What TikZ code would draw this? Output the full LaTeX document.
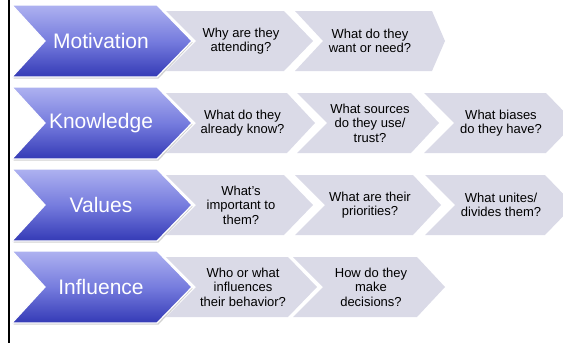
\documentclass[tikz,border=0pt]{standalone}
\usepackage{fontspec}
\setmainfont{Liberation Sans}
\definecolor{leadtop}{RGB}{174,178,240}
\definecolor{leadmid}{RGB}{118,124,222}
\definecolor{leadbot}{RGB}{52,58,182}
\definecolor{itemgray}{RGB}{218,218,231}
% chevron outline: style, left x, top-right x, tip depth, notch depth, centre y, half height
\newcommand\chevronpath[7]{%
  \path[#1] (#2,#6-#7) -- (#3,#6-#7) -- (#3+#4,#6) -- (#3,#6+#7)
    -- (#2,#6+#7) -- (#2+#5,#6) -- cycle;}
% a lead chevron with its label
\newcommand\leadchevron[3]{%
  \chevronpath{fill=black,opacity=0.18}{13.5}{158.5}{34}{33}{#2+1.5}{36}
  \chevronpath{lead}{12}{157}{35}{33}{#2}{36}
  \node[leadtext] (#1) at (101,#2) {#3};}
% a question chevron with its label: name, left x, top-right x, tip, centre y, text
\newcommand\itemchevron[6]{%
  \chevronpath{item}{#2}{#3}{#4}{30}{#5}{30}
  \node[itemtext] (#1) at ({(#2+30+#3)/2+1},#5) {#6};}
\begin{document}
\begin{tikzpicture}[x=1pt,y=-1pt,
  lead/.style={top color=leadtop, bottom color=leadbot, middle color=leadmid,
    draw=white, line width=1.2pt},
  item/.style={fill=itemgray},
  leadtext/.style={text=white, inner sep=0pt, font=\fontsize{21}{24}\selectfont},
  itemtext/.style={align=center, inner sep=0pt, text=black,
    font=\fontsize{13}{14.5}\selectfont}]
\useasboundingbox (0,0) rectangle (563,343);
\begin{scope}
\clip (0,0) rectangle (563,343);
% left rule
\draw[line width=2pt] (9,0) -- (9,343);

% Motivation
\itemchevron{m1}{166}{284}{29}{41}{Why are they\\attending?}
\chevronpath{item}{295}{432}{13}{28}{41}{30}
\node[itemtext] (m2) at (370,41) {What do they\\want or need?};
\leadchevron{motivation}{41}{Motivation}

% Knowledge
\itemchevron{k1}{166}{287}{28}{123}{What do they\\already know?}
\itemchevron{k2}{297}{411}{28}{123}{What sources\\do they use/\\trust?}
\itemchevron{k3}{424}{546}{29}{123}{What biases\\do they have?}
\leadchevron{knowledge}{123}{Knowledge}

% Values
\itemchevron{v1}{166}{284}{29}{205}{What's\\important to\\them?}
\itemchevron{v2}{295}{413}{28}{205}{What are their\\priorities?}
\itemchevron{v3}{425}{545}{29}{205}{What unites/\\divides them?}
\leadchevron{values}{205}{Values}

% Influence
\itemchevron{i1}{166}{288}{29}{287}{Who or what\\influences\\their behavior?}
\itemchevron{i2}{293}{417}{28}{287}{How do they\\make\\decisions?}
\leadchevron{influence}{287}{Influence}
\end{scope}
\end{tikzpicture}
\end{document}
